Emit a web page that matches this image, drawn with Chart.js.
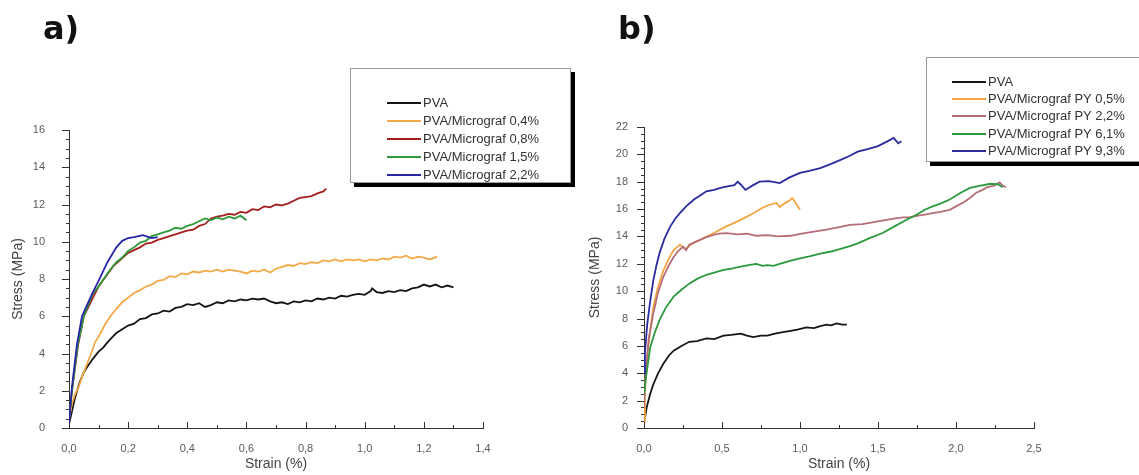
<!DOCTYPE html>
<html>
<head>
<meta charset="utf-8">
<script src="https://cdn.jsdelivr.net/npm/chart.js@4.4.1/dist/chart.umd.min.js"></script>
<style>
    body { margin: 0; background: #fff; }
    #wrap { position: relative; width: 1139px; height: 475px; overflow: hidden; background: #fff; }
    canvas { position: absolute; top: 0; }
    .panel-tag { position: absolute; font: bold 32px "DejaVu Sans", sans-serif; color: #111; line-height: 1; }
    .legend { position: absolute; background: #fff; border: 1px solid #9a9a9a; box-shadow: 4px 4px 0 #000; }
    .legend-row { position: absolute; height: 14px; font: 13px "Liberation Sans", Arial, sans-serif; color: #333; white-space: nowrap; }
    .legend-row span.swatch { position: absolute; left: 0; top: 6px; width: 34px; height: 2px; }
    .legend-row span.text { position: absolute; left: 36px; top: -1px; }
</style>
</head>
<body>
<div id="wrap">
    <canvas id="chartA" width="540" height="475" style="left:0px"></canvas>
    <canvas id="chartB" width="559" height="475" style="left:580px"></canvas>
    <div class="panel-tag" style="left:43px; top:12px">a)</div>
    <div class="panel-tag" style="left:618px; top:12px">b)</div>
    <div id="legendA" class="legend" style="left:350px; top:68px; width:219px; height:113px"></div>
    <div id="legendB" class="legend" style="left:926px; top:57px; width:215px; height:103px"></div>
</div>
<script>
// ---- Panel a: PVA / Micrograf ----  points are [strain %, stress MPa]
const aLabels = ["PVA", "PVA/Micrograf 0,4%", "PVA/Micrograf 0,8%", "PVA/Micrograf 1,5%", "PVA/Micrograf 2,2%"];
const aColors = ["#151515", "#f3a948", "#a31d1d", "#2f9a3a", "#2626a6"];

const aPVA = [[0,0.2],[0.01,0.9],[0.02,1.6],[0.035,2.4],[0.05,3.0],[0.065,3.35],[0.08,3.7],[0.1,4.1],[0.115,4.3],[0.13,4.6],[0.145,4.85],[0.16,5.1],[0.18,5.3],[0.2,5.5],[0.22,5.6],[0.24,5.85],[0.26,5.9],[0.28,6.1],[0.3,6.15],[0.32,6.3],[0.34,6.25],[0.36,6.45],[0.38,6.5],[0.4,6.65],[0.42,6.6],[0.44,6.7],[0.46,6.5],[0.48,6.6],[0.5,6.75],[0.52,6.7],[0.54,6.85],[0.56,6.8],[0.58,6.9],[0.6,6.85],[0.62,6.95],[0.64,6.9],[0.66,6.95],[0.68,6.8],[0.7,6.7],[0.72,6.75],[0.74,6.65],[0.76,6.8],[0.78,6.75],[0.8,6.85],[0.82,6.8],[0.84,6.95],[0.86,6.9],[0.88,7.0],[0.9,6.95],[0.92,7.1],[0.94,7.05],[0.96,7.15],[0.98,7.2],[1.0,7.15],[1.02,7.35],[1.025,7.5],[1.04,7.3],[1.06,7.25],[1.08,7.35],[1.1,7.3],[1.12,7.4],[1.14,7.35],[1.16,7.5],[1.18,7.55],[1.2,7.7],[1.22,7.6],[1.24,7.7],[1.26,7.55],[1.28,7.65],[1.3,7.55]];

const a04 = [[0,0.5],[0.01,1.3],[0.02,1.8],[0.033,2.2],[0.045,2.8],[0.06,3.4],[0.075,4.0],[0.088,4.6],[0.1,4.9],[0.12,5.5],[0.14,6.0],[0.16,6.4],[0.18,6.75],[0.2,7.0],[0.22,7.25],[0.24,7.4],[0.26,7.6],[0.28,7.7],[0.3,7.9],[0.32,7.95],[0.34,8.15],[0.36,8.1],[0.38,8.3],[0.4,8.25],[0.42,8.4],[0.44,8.35],[0.46,8.45],[0.48,8.4],[0.5,8.5],[0.52,8.4],[0.54,8.5],[0.56,8.45],[0.58,8.4],[0.6,8.3],[0.62,8.45],[0.64,8.4],[0.66,8.5],[0.68,8.35],[0.7,8.55],[0.72,8.65],[0.74,8.75],[0.76,8.7],[0.78,8.85],[0.8,8.8],[0.82,8.9],[0.84,8.85],[0.86,9.0],[0.88,8.95],[0.9,9.05],[0.92,8.95],[0.94,9.05],[0.96,9.0],[0.98,9.05],[1.0,8.95],[1.02,9.05],[1.04,9.0],[1.06,9.1],[1.08,9.05],[1.1,9.2],[1.12,9.15],[1.14,9.25],[1.16,9.1],[1.18,9.2],[1.2,9.15],[1.22,9.05],[1.245,9.2]];

const a08 = [[0,0.5],[0.01,2.0],[0.03,4.4],[0.05,6.0],[0.1,7.6],[0.15,8.7],[0.2,9.4],[0.22,9.55],[0.24,9.7],[0.26,9.9],[0.28,9.95],[0.3,10.1],[0.32,10.2],[0.34,10.3],[0.36,10.4],[0.38,10.5],[0.4,10.6],[0.42,10.65],[0.44,10.85],[0.46,10.95],[0.48,11.25],[0.5,11.35],[0.52,11.4],[0.54,11.5],[0.56,11.45],[0.58,11.6],[0.6,11.55],[0.62,11.75],[0.64,11.7],[0.66,11.9],[0.68,11.85],[0.7,12.0],[0.72,11.95],[0.74,12.05],[0.76,12.2],[0.78,12.35],[0.8,12.4],[0.82,12.45],[0.84,12.6],[0.86,12.7],[0.87,12.85]];

const a15 = [[0,0.5],[0.01,2.0],[0.03,4.5],[0.05,6.0],[0.08,7.2],[0.1,7.6],[0.13,8.3],[0.16,8.9],[0.18,9.15],[0.2,9.5],[0.22,9.7],[0.24,9.95],[0.26,10.05],[0.28,10.3],[0.3,10.4],[0.32,10.5],[0.34,10.6],[0.36,10.75],[0.38,10.7],[0.4,10.85],[0.42,10.95],[0.44,11.1],[0.46,11.25],[0.48,11.15],[0.5,11.3],[0.52,11.2],[0.54,11.35],[0.56,11.25],[0.58,11.4],[0.6,11.15]];

const a22 = [[0,0.3],[0.01,2.2],[0.027,4.5],[0.044,6.0],[0.078,7.2],[0.1,7.9],[0.13,8.9],[0.16,9.7],[0.18,10.05],[0.2,10.2],[0.22,10.25],[0.25,10.35],[0.28,10.2],[0.3,10.25]];

// ---- Panel b: PVA / Micrograf PY ----
const bLabels = ["PVA", "PVA/Micrograf PY 0,5%", "PVA/Micrograf PY 2,2%", "PVA/Micrograf PY 6,1%", "PVA/Micrograf PY 9,3%"];
const bColors = ["#151515", "#f2a540", "#b56d78", "#2b9a3c", "#2b2ba0"];

const bPVA = [[0,0.3],[0.017,1.5],[0.04,2.5],[0.06,3.2],[0.09,4.0],[0.124,4.7],[0.16,5.3],[0.19,5.65],[0.24,6.0],[0.29,6.3],[0.34,6.35],[0.4,6.55],[0.45,6.5],[0.51,6.75],[0.56,6.8],[0.62,6.9],[0.66,6.75],[0.7,6.65],[0.75,6.75],[0.79,6.75],[0.84,6.9],[0.89,7.0],[0.94,7.1],[0.99,7.2],[1.04,7.35],[1.09,7.3],[1.13,7.45],[1.17,7.55],[1.2,7.5],[1.235,7.65],[1.27,7.55],[1.3,7.55]];

const b05 = [[0,0.5],[0.006,2.5],[0.02,5.2],[0.04,7.2],[0.06,8.85],[0.09,10.3],[0.124,11.5],[0.16,12.4],[0.19,13.0],[0.23,13.4],[0.25,13.2],[0.27,13.1],[0.3,13.4],[0.33,13.6],[0.36,13.75],[0.4,14.0],[0.44,14.2],[0.48,14.45],[0.52,14.7],[0.55,14.85],[0.6,15.1],[0.66,15.45],[0.7,15.7],[0.76,16.1],[0.8,16.3],[0.85,16.45],[0.87,16.15],[0.9,16.4],[0.93,16.6],[0.95,16.8],[0.97,16.5],[0.98,16.3],[1.0,15.95]];

const b22 = [[0,1.5],[0.01,4.0],[0.03,6.5],[0.06,8.4],[0.09,9.9],[0.124,11.05],[0.16,11.9],[0.19,12.5],[0.22,12.95],[0.25,13.25],[0.27,13.0],[0.29,13.4],[0.33,13.6],[0.36,13.75],[0.4,13.95],[0.44,14.1],[0.48,14.2],[0.53,14.25],[0.6,14.15],[0.66,14.2],[0.72,14.05],[0.79,14.1],[0.86,14.0],[0.94,14.05],[1.01,14.2],[1.09,14.35],[1.17,14.5],[1.26,14.7],[1.32,14.85],[1.4,14.9],[1.5,15.1],[1.6,15.3],[1.66,15.4],[1.7,15.4],[1.75,15.5],[1.8,15.6],[1.85,15.7],[1.9,15.8],[1.96,15.95],[2.0,16.2],[2.05,16.5],[2.1,16.9],[2.13,17.2],[2.17,17.4],[2.2,17.6],[2.24,17.7],[2.28,17.95],[2.3,17.7],[2.32,17.6]];

const b61 = [[0,2.5],[0.01,3.5],[0.04,5.9],[0.07,7.0],[0.1,7.9],[0.14,8.8],[0.19,9.6],[0.24,10.1],[0.29,10.55],[0.34,10.9],[0.4,11.2],[0.45,11.35],[0.51,11.55],[0.56,11.65],[0.62,11.8],[0.67,11.9],[0.72,12.0],[0.76,11.85],[0.79,11.9],[0.83,11.85],[0.87,12.0],[0.93,12.2],[1.0,12.4],[1.06,12.55],[1.13,12.75],[1.2,12.9],[1.26,13.1],[1.32,13.3],[1.37,13.5],[1.45,13.9],[1.53,14.25],[1.6,14.7],[1.68,15.2],[1.75,15.6],[1.8,15.95],[1.85,16.2],[1.9,16.4],[1.96,16.7],[2.03,17.2],[2.09,17.55],[2.15,17.7],[2.22,17.85],[2.27,17.8],[2.3,17.6]];

const b93 = [[0,4.0],[0.006,5.5],[0.02,7.5],[0.04,9.3],[0.06,10.8],[0.08,11.9],[0.1,12.8],[0.13,13.8],[0.167,14.7],[0.2,15.3],[0.23,15.7],[0.27,16.2],[0.32,16.7],[0.36,17.0],[0.4,17.3],[0.45,17.4],[0.49,17.55],[0.55,17.7],[0.58,17.75],[0.6,18.0],[0.62,17.8],[0.65,17.4],[0.7,17.75],[0.74,18.0],[0.8,18.05],[0.87,17.9],[0.93,18.3],[1.0,18.65],[1.06,18.8],[1.13,19.0],[1.2,19.3],[1.26,19.6],[1.32,19.9],[1.37,20.2],[1.44,20.4],[1.5,20.6],[1.56,20.95],[1.6,21.2],[1.63,20.8],[1.65,20.95]];

// Turn [strain, stress] pairs into {x, y} points
function toPoints(pairs) {
    return pairs.map(p => ({ x: p[0], y: p[1] }));
}

// Small Origin-style ticks: major and minor, x ticks point up, y ticks point left
const axisTicks = {
    id: "axisTicks",
    afterDraw(chart, args, o) {
        const { ctx, scales: { x, y } } = chart;
        ctx.save();
        ctx.strokeStyle = "#333";
        ctx.lineWidth = 1;
        ctx.beginPath();
        const nx = Math.round((x.max - x.min) / o.xMinor);
        for (let i = 0; i <= nx; i++) {
            const px = Math.round(x.getPixelForValue(x.min + i * o.xMinor)) + 0.5;
            const len = i % o.xEvery === 0 ? 6 : 3;
            ctx.moveTo(px, y.bottom);
            ctx.lineTo(px, y.bottom - len);
        }
        const ny = Math.round((y.max - y.min) / o.yMinor);
        for (let i = 0; i <= ny; i++) {
            const py = Math.round(y.getPixelForValue(y.min + i * o.yMinor)) + 0.5;
            const len = i % o.yEvery === 0 ? 7 : 3;
            ctx.moveTo(x.left, py);
            ctx.lineTo(x.left - len, py);
        }
        ctx.stroke();
        ctx.restore();
    }
};

function makeChart(id, labels, colors, series, cfg) {
    const datasets = series.map((s, i) => ({
        label: labels[i],
        data: toPoints(s),
        borderColor: colors[i],
        backgroundColor: colors[i],
        borderWidth: 1.8,
        pointRadius: 0,
        showLine: true,
        tension: 0,
        order: series.length - 1 - i
    }));

    return new Chart(document.getElementById(id), {
        type: "scatter",
        data: { datasets: datasets },
        plugins: [axisTicks],
        options: {
            responsive: false,
            animation: false,
            layout: { padding: cfg.padding },
            plugins: {
                legend: { display: false },
                tooltip: { enabled: false },
                axisTicks: cfg.ticks
            },
            scales: {
                x: {
                    type: "linear",
                    min: 0,
                    max: cfg.xMax,
                    afterFit: s => { s.height = 46; },
                    grid: { display: false },
                    border: { display: true, color: "#333", width: 1 },
                    ticks: {
                        stepSize: cfg.xStep,
                        padding: 6,
                        color: "#5a5a5a",
                        font: { family: "Liberation Sans", size: 11 },
                        maxRotation: 0,
                        callback: v => v.toFixed(1).replace(".", ",")
                    },
                    title: {
                        display: true,
                        text: "Strain (%)",
                        color: "#444",
                        font: { family: "Liberation Sans", size: 14 },
                        padding: { top: 0, bottom: 1 }
                    }
                },
                y: {
                    type: "linear",
                    min: 0,
                    max: cfg.yMax,
                    afterFit: s => { s.width = cfg.yWidth; },
                    grid: { display: false },
                    border: { display: true, color: "#333", width: 1 },
                    ticks: {
                        stepSize: 2,
                        padding: cfg.yPad,
                        color: "#5a5a5a",
                        font: { family: "Liberation Sans", size: 11 },
                        callback: v => String(v)
                    },
                    title: {
                        display: true,
                        text: "Stress (MPa)",
                        color: "#444",
                        font: { family: "Liberation Sans", size: 14 },
                        padding: { top: cfg.titlePad, bottom: 0 }
                    }
                }
            }
        }
    });
}

makeChart("chartA", aLabels, aColors, [aPVA, a04, a08, a15, a22], {
    xMax: 1.4, xStep: 0.2, yMax: 16, yWidth: 69, yPad: 16, titlePad: 10,
    padding: { left: 0, top: 130, right: 57, bottom: 1 },
    ticks: { xMinor: 0.1, xEvery: 2, yMinor: 0.5, yEvery: 4 }
});

makeChart("chartB", bLabels, bColors, [bPVA, b05, b22, b61, b93], {
    xMax: 2.5, xStep: 0.5, yMax: 22, yWidth: 64, yPad: 8, titlePad: 7,
    padding: { left: 0, top: 127, right: 105, bottom: 1 },
    ticks: { xMinor: 0.25, xEvery: 2, yMinor: 0.5, yEvery: 4 }
});

// HTML legends in the boxed Origin style
function buildLegend(id, labels, colors, firstRow, rowGap, lineLeft) {
    const box = document.getElementById(id);
    labels.forEach((label, i) => {
        const row = document.createElement("div");
        row.className = "legend-row";
        row.style.left = lineLeft + "px";
        row.style.top = (firstRow + i * rowGap - 7) + "px";
        row.innerHTML = '<span class="swatch" style="background:' + colors[i] + '"></span>' +
                        '<span class="text">' + label + "</span>";
        box.appendChild(row);
    });
}

buildLegend("legendA", aLabels, aColors, 34, 18, 36);
buildLegend("legendB", bLabels, bColors, 24, 17.2, 25);
</script>
</body>
</html>
